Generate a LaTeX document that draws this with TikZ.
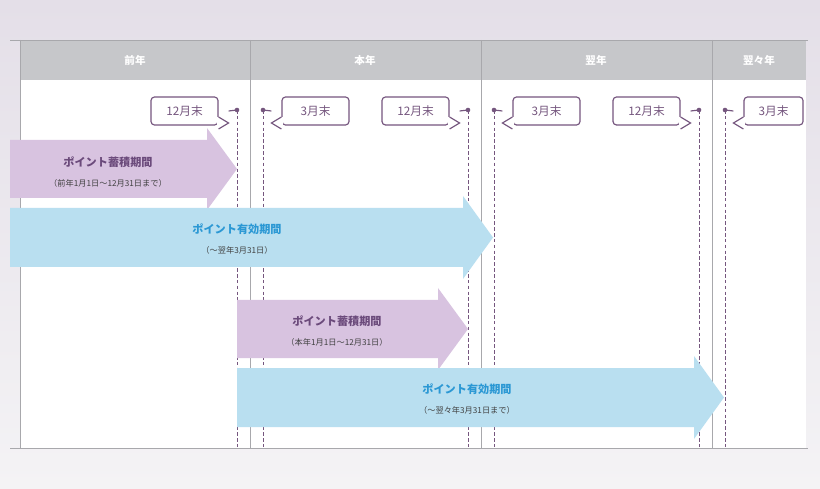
\documentclass[tikz,border=0pt]{standalone}
\usepackage{fontspec}
\setmainfont{Noto Sans CJK JP}
\definecolor{bgtop}{HTML}{E4DFE8}
\definecolor{bgbot}{HTML}{F4F3F5}
\definecolor{headgray}{HTML}{C6C7CA}
\definecolor{lineg}{HTML}{A8A8AC}
\definecolor{markc}{HTML}{75567E}
\definecolor{accfill}{HTML}{D8C3E0}
\definecolor{acctext}{HTML}{6B4A7B}
\definecolor{valfill}{HTML}{B9DFF0}
\definecolor{valtext}{HTML}{2B98D4}
\newlength{\pgfx}
\setlength{\pgfx}{0.03cm}
\tikzset{
  year/.style={text=white, font=\bfseries\fontsize{9}{10}\selectfont},
  monthend/.style={draw=markc, line width=1pt, rounded corners=3pt, minimum width=67\pgfx, minimum height=28\pgfx, inner sep=0pt, text=markc, fill=white, font=\fontsize{10}{12}\selectfont},
  guide/.style={markc, densely dashed, line width=0.5pt},
  period/.style={align=center, font=\bfseries\fontsize{9.5}{11}\selectfont},
  note/.style={font=\fontsize{7}{9}\selectfont, text=black!75},
}
\begin{document}
\begin{tikzpicture}[x=0.03cm, y=-0.03cm]
  % background
  \shade[top color=bgtop, bottom color=bgbot] (0,0) rectangle (820,489);
  \useasboundingbox (0,0) rectangle (820,489);
  \fill[white] (20,80) rectangle (806,448);
  \fill[headgray] (20,40) rectangle (806,80);
  \draw[lineg] (10,40) -- (808,40);
  \draw[lineg] (10,448) -- (808,448);
  \draw[lineg] (20,40) -- (20,448);
  \foreach \x in {250,481,712} \draw[lineg] (\x,40) -- (\x,448);

  % year headings
  \node[year] (y1) at (135,60) {前年};
  \node[year] (y2) at (365,60) {本年};
  \node[year] (y3) at (596,60) {翌年};
  \node[year] (y4) at (759,60) {翌々年};

  % dashed guides with dots
  \foreach \x/\n in {237/a,263/b,468/c,494/d,699/e,725/f}{
    \coordinate (d\n) at (\x,110);
    \coordinate (e\n) at (\x,448);
    \draw[guide] (d\n) -- (e\n);
    \fill[markc] (d\n) circle (2.3);
  }

  % month-end callouts
  \foreach \cx/\w/\t/\d/\s/\side in {184.5/67/12月末/a/1/east, 315.5/67/3月末/b/-1/west,
      415.5/67/12月末/c/1/east, 546.5/67/3月末/d/-1/west, 646.5/67/12月末/e/1/east, 773.5/59/3月末/f/-1/west}{
    \node[monthend, minimum width=\w\pgfx] (m\d) at (\cx,111) {\t};
    \fill[white] ([yshift=-6\pgfx]m\d.\side) rectangle ++(-\s*2,12);
    \draw[markc, line width=1pt] ([yshift=-6\pgfx]m\d.\side) -- ++(\s*10,6) -- ++(-\s*10,6);
    \draw[markc, line width=1pt] ([xshift=\s*10\pgfx]m\d.\side) -- (d\d);
  }

  % periods
  \fill[accfill] (10,140) -- (207,140) -- (207,128) -- (237,169) -- (207,210) -- (207,198) -- (10,198) -- cycle;
  \node[period, text=acctext] (p1) at (108,162) {ポイント蓄積期間};
  \node[note] (n1) at (108,183) {（前年1月1日〜12月31日まで）};

  \fill[valfill] (10,208) -- (463,208) -- (463,196) -- (493,237.5) -- (463,279) -- (463,267) -- (10,267) -- cycle;
  \node[period, text=valtext] (p2) at (237,229) {ポイント有効期間};
  \node[note] (n2) at (237,250) {（〜翌年3月31日）};

  \fill[accfill] (237,300) -- (438,300) -- (438,288) -- (468,329) -- (438,370) -- (438,358) -- (237,358) -- cycle;
  \node[period, text=acctext] (p3) at (337,321) {ポイント蓄積期間};
  \node[note] (n3) at (337,342) {（本年1月1日〜12月31日）};

  \fill[valfill] (237,368) -- (694,368) -- (694,356) -- (724,397.5) -- (694,439) -- (694,427) -- (237,427) -- cycle;
  \node[period, text=valtext] (p4) at (467,389) {ポイント有効期間};
  \node[note] (n4) at (467,410) {（〜翌々年3月31日まで）};
\end{tikzpicture}
\end{document}
